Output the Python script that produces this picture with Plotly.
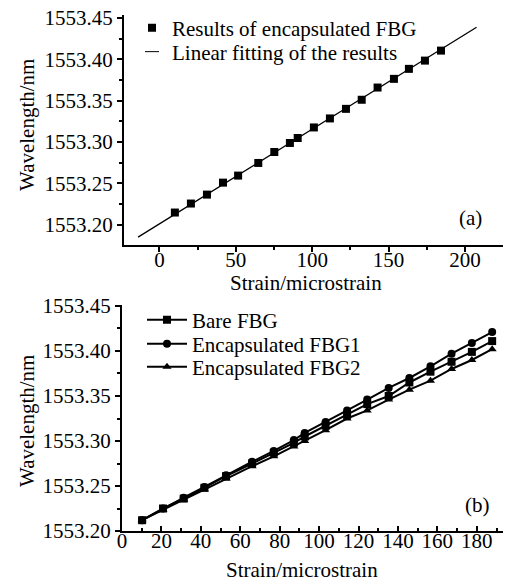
import plotly.graph_objects as go

# ---------- data ----------
# panel (a)
strain_a = [10.1, 20.6, 31.1, 41.6, 51.5, 64.7, 75.2, 85.4, 90.5, 101.1,
            111.6, 122.1, 132.4, 142.8, 153.5, 163.3, 173.8, 184.3]
wl_a = [1553.2145, 1553.2254, 1553.2362, 1553.2507, 1553.2592, 1553.2745,
        1553.2878, 1553.2987, 1553.3047, 1553.3175, 1553.3284, 1553.3400,
        1553.3510, 1553.3658, 1553.3763, 1553.3884, 1553.3984, 1553.4105]
fit_x = [-14.0, 207.6]
fit_y = [1553.1847, 1553.4388]

# panel (b)
strain_b = [10.2, 20.8, 31.3, 41.8, 52.8, 66.0, 77.0, 87.2, 92.7, 103.3,
            114.2, 124.4, 135.3, 145.8, 156.5, 167.2, 177.5, 187.8]
bare = [1553.212, 1553.225, 1553.236, 1553.248, 1553.261, 1553.275, 1553.287,
        1553.298, 1553.305, 1553.317, 1553.329, 1553.341, 1553.350, 1553.365,
        1553.377, 1553.388, 1553.399, 1553.411]
enc1 = [1553.212, 1553.225, 1553.237, 1553.249, 1553.262, 1553.277, 1553.289,
        1553.301, 1553.309, 1553.321, 1553.334, 1553.346, 1553.359, 1553.370,
        1553.383, 1553.397, 1553.409, 1553.421]
enc2 = [1553.212, 1553.224, 1553.235, 1553.246, 1553.258, 1553.272, 1553.283,
        1553.294, 1553.300, 1553.312, 1553.325, 1553.334, 1553.346, 1553.357,
        1553.367, 1553.380, 1553.390, 1553.402]

series_b = [("Bare FBG", bare, "square"),
            ("Encapsulated FBG1", enc1, "circle"),
            ("Encapsulated FBG2", enc2, "triangle-up")]

# ---------- figure ----------
W, H = 506, 581
FONT = "Liberation Serif"
FS = 21

def px(x):
    return x / W

def py(y):
    return 1 - y / H

fig = go.Figure()

# (a)
fig.add_trace(go.Scatter(x=fit_x, y=fit_y, mode="lines",
                         line=dict(color="black", width=1.3),
                         showlegend=False, xaxis="x", yaxis="y"))
fig.add_trace(go.Scatter(x=strain_a, y=wl_a, mode="markers",
                         marker=dict(symbol="square", size=8, color="black"),
                         name="Results of encapsulated FBG",
                         legend="legend", xaxis="x", yaxis="y"))
fig.add_trace(go.Scatter(x=[None], y=[None], mode="markers",
                         marker=dict(symbol="line-ew", size=10, color="black",
                                     line=dict(color="black", width=1)),
                         name="Linear fitting of the results",
                         legend="legend3", xaxis="x", yaxis="y"))

# (b)
legend_ids_b = ["legend2", "legend4", "legend5"]
for (name, vals, sym), lg in zip(series_b, legend_ids_b):
    fig.add_trace(go.Scatter(x=strain_b, y=vals, mode="lines+markers",
                             line=dict(color="black", width=2),
                             marker=dict(symbol=sym, size=8, color="black"),
                             name=name, legend=lg,
                             xaxis="x2", yaxis="y2"))

axis_common = dict(showline=True, linecolor="black", linewidth=2,
                   ticklen=5, tickwidth=1.5, tickcolor="black",
                   showgrid=False, zeroline=False, automargin=False,
                   tickfont=dict(family=FONT, size=FS, color="black"),
                   mirror=False)

def leg(xp, yp, iw):
    return dict(x=px(xp), y=py(yp), xanchor="left", yanchor="middle",
                bgcolor="rgba(0,0,0,0)", font=dict(family=FONT, size=FS),
                itemwidth=iw)

def ann(text, xp, yp, angle=0):
    return dict(text=text, x=px(xp), y=py(yp), xref="paper", yref="paper",
                xanchor="center", yanchor="middle", textangle=angle,
                showarrow=False, font=dict(family=FONT, size=FS, color="black"))

fig.update_layout(
    width=W, height=H,
    margin=dict(l=0, r=0, t=0, b=0, pad=0),
    paper_bgcolor="white", plot_bgcolor="white",
    font=dict(family=FONT, size=FS, color="black"),
    xaxis=dict(domain=[px(124), px(503)], range=[-23.2, 224.9],
               dtick=50, tick0=0, anchor="y", ticks="outside",
               ticklabelstandoff=-10,
               minor=dict(dtick=25, ticks="outside", ticklen=3, tickcolor="black"),
               **axis_common),
    yaxis=dict(domain=[py(245), py(15)], range=[1553.1752, 1553.4536],
               dtick=0.05, tick0=1553.2, tickformat=".2f", anchor="x",
               ticks="outside",
               minor=dict(dtick=0.025, ticks="outside", ticklen=3, tickcolor="black"),
               **axis_common),
    xaxis2=dict(domain=[px(122), px(503)], range=[0, 193.3],
                dtick=20, tick0=0, anchor="y2", ticks="inside",
                ticklabelstandoff=-10,
                minor=dict(dtick=10, ticks="inside", ticklen=3, tickcolor="black"),
                **axis_common),
    yaxis2=dict(domain=[py(531), py(305)], range=[1553.2, 1553.4511],
                dtick=0.05, tick0=1553.2, tickformat=".2f", anchor="x2",
                ticks="outside",
                minor=dict(dtick=0.025, ticks="outside", ticklen=3, tickcolor="black"),
                **axis_common),
    legend=leg(132, 28, 30),
    legend3=leg(132, 52, 30),
    legend2=leg(142, 320, 40),
    legend4=leg(142, 344, 40),
    legend5=leg(142, 367, 40),
    annotations=[
        ann("Wavelength/nm", 27, 125, -90),
        ann("Wavelength/nm", 27, 421, -90),
        ann("Strain/microstrain", 306, 283),
        ann("Strain/microstrain", 302, 570),
        ann("(a)", 470, 218),
        ann("(b)", 477, 505),
    ],
)

fig.write_html("out.html", post_script="document.body.style.margin='0px';",
               config={"displayModeBar": False})
